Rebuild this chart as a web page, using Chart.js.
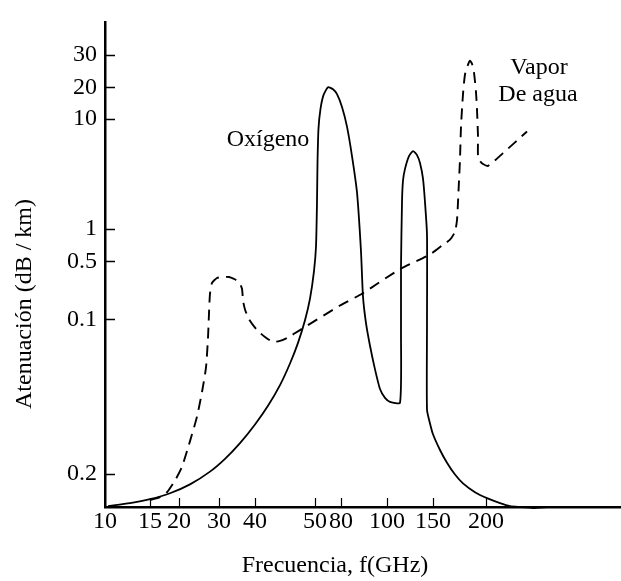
<!DOCTYPE html>
<html>
<head>
<meta charset="utf-8">
<script src="https://cdn.jsdelivr.net/npm/chart.js@4"></script>
<style>
  body { margin: 0; background: #fff; }
  #wrap { width: 621px; height: 581px; }
</style>
</head>
<body>
<div id="wrap"><canvas id="chart" width="621" height="581"></canvas></div>
<script>
// axis positions are in "drawing units" because the original axes are not to scale
const xTickPos = [0, 45, 74, 114, 150, 210, 236, 282, 328, 381];
const xTickLabels = ['10', '15', '20', '30', '40', '50', '80', '100', '150', '200'];
const yTickPos = [34, 191, 250, 283, 395, 427, 460];
const yTickLabels = ['0.2', '0.1', '0.5', '1', '10', '20', '30'];

// Oxígeno (solid)
const oxygenX = [3, 25, 45, 65, 85, 105, 120, 135, 150, 163, 175, 185, 193, 200, 205, 209, 211, 212, 212.5, 213.5, 215.5, 218.5, 223, 228, 232, 237, 242, 247, 252, 256, 258, 261, 265, 270, 275, 280, 285, 295,
    296, 296, 297, 298, 300, 304, 308, 312, 315, 318, 320, 322, 322, 322, 325, 328, 335, 342, 350, 358, 370, 382, 395, 405, 415, 428, 442];
const oxygenY = [1, 4, 8, 14, 23, 36, 49, 65, 84, 103, 124, 146, 167, 190, 212, 240, 265, 310, 350, 385, 405, 419, 427, 425, 420, 407, 387, 357, 320, 260, 214, 187, 164, 140, 120, 111, 107, 106,
    177, 244, 310, 332, 344, 357, 362, 358, 350, 334, 310, 277, 187, 99, 85, 74, 58, 45, 33, 24, 15, 9, 4, 1, 0, -1, 0];

// Vapor de agua (dashed)
const vaporX = [45, 55, 62, 70, 77, 85, 92, 97, 101, 103, 104, 105, 107, 112, 118, 124, 129, 134, 137, 138, 140, 144, 152, 160, 168, 175, 182, 195, 235, 257, 295, 325, 337, 345, 350, 352,
    353, 354, 355, 356, 358, 360, 363, 365, 367, 369, 371, 372, 373, 373, 375, 378, 383, 398, 422];
const vaporY = [7, 10, 15, 27, 41, 67, 92, 117, 142, 172, 197, 217, 228, 233, 234, 234, 232, 229, 222, 210, 201, 191, 180, 173, 168, 169, 172, 180, 205, 217, 242, 257, 266, 272, 280, 292,
    310, 332, 354, 387, 420, 440, 450, 454, 451, 442, 422, 404, 377, 357, 352, 349, 347, 360, 382];

const serif = "'Liberation Serif', 'DejaVu Serif', serif";

function zip(xs, ys) {
    return xs.map((x, i) => ({ x: x, y: ys[i] }));
}

const annotations = {
    id: 'annotations',
    afterDraw(chart) {
        const ctx = chart.ctx;
        const xs = chart.scales.x;
        const ys = chart.scales.y;
        ctx.save();
        ctx.strokeStyle = '#000';

        // inward tick marks
        ctx.lineWidth = 1.5;
        yTickPos.forEach(v => {
            const py = Math.round(ys.getPixelForValue(v)) + 0.5;
            ctx.beginPath();
            ctx.moveTo(xs.left, py);
            ctx.lineTo(xs.left + 10, py);
            ctx.stroke();
        });
        ctx.lineWidth = 1.2;
        xTickPos.slice(1).forEach(v => {
            const px = Math.round(xs.getPixelForValue(v)) + 0.5;
            ctx.beginPath();
            ctx.moveTo(px, ys.bottom);
            ctx.lineTo(px, ys.bottom - 9);
            ctx.stroke();
        });

        // curve labels
        ctx.fillStyle = '#000';
        ctx.font = '24px ' + serif;
        ctx.textAlign = 'center';
        ctx.textBaseline = 'middle';
        ctx.fillText('Oxígeno', xs.getPixelForValue(163), ys.getPixelForValue(374));
        ctx.fillText('Vapor', xs.getPixelForValue(434), ys.getPixelForValue(447));
        ctx.fillText('De agua', xs.getPixelForValue(433), ys.getPixelForValue(419));

        // axis titles
        ctx.fillText('Frecuencia, f(GHz)', 335, 566);
        ctx.translate(25, 304);
        ctx.rotate(-Math.PI / 2);
        ctx.fillText('Atenuación (dB / km)', 0, 0);
        ctx.restore();
    }
};

new Chart(document.getElementById('chart'), {
    type: 'scatter',
    data: {
        datasets: [
            {
                label: 'Oxígeno',
                data: zip(oxygenX, oxygenY),
                showLine: true,
                borderColor: '#000',
                borderWidth: 1.8,
                pointRadius: 0,
                tension: 0.2,
                clip: false
            },
            {
                label: 'Vapor de agua',
                data: zip(vaporX, vaporY),
                showLine: true,
                borderColor: '#000',
                borderWidth: 1.9,
                borderDash: [11, 7],
                pointRadius: 0,
                tension: 0.2,
                clip: false
            }
        ]
    },
    options: {
        responsive: false,
        animation: false,
        devicePixelRatio: 1,
        layout: { padding: { top: 14, left: 0, right: 0, bottom: 0 } },
        plugins: { legend: { display: false }, tooltip: { enabled: false } },
        scales: {
            x: {
                type: 'linear',
                min: 0,
                max: 516,
                afterFit: scale => { scale.height = 74; },
                afterBuildTicks: scale => { scale.ticks = xTickPos.map(v => ({ value: v })); },
                grid: { display: false, drawTicks: false },
                border: { display: true, color: '#000', width: 2.5 },
                ticks: {
                    autoSkip: false,
                    maxRotation: 0,
                    padding: 0,
                    color: '#000',
                    font: { family: serif, size: 24 },
                    callback: (value, index) => xTickLabels[index]
                }
            },
            y: {
                type: 'linear',
                min: 0,
                max: 493,
                afterFit: scale => { scale.width = 105; },
                afterBuildTicks: scale => { scale.ticks = yTickPos.map(v => ({ value: v })); },
                grid: { display: false, drawTicks: false },
                border: { display: true, color: '#000', width: 2.5 },
                ticks: {
                    autoSkip: false,
                    padding: 8,
                    color: '#000',
                    font: { family: serif, size: 24 },
                    callback: (value, index) => yTickLabels[index]
                }
            }
        }
    },
    plugins: [annotations]
});
</script>
</body>
</html>
